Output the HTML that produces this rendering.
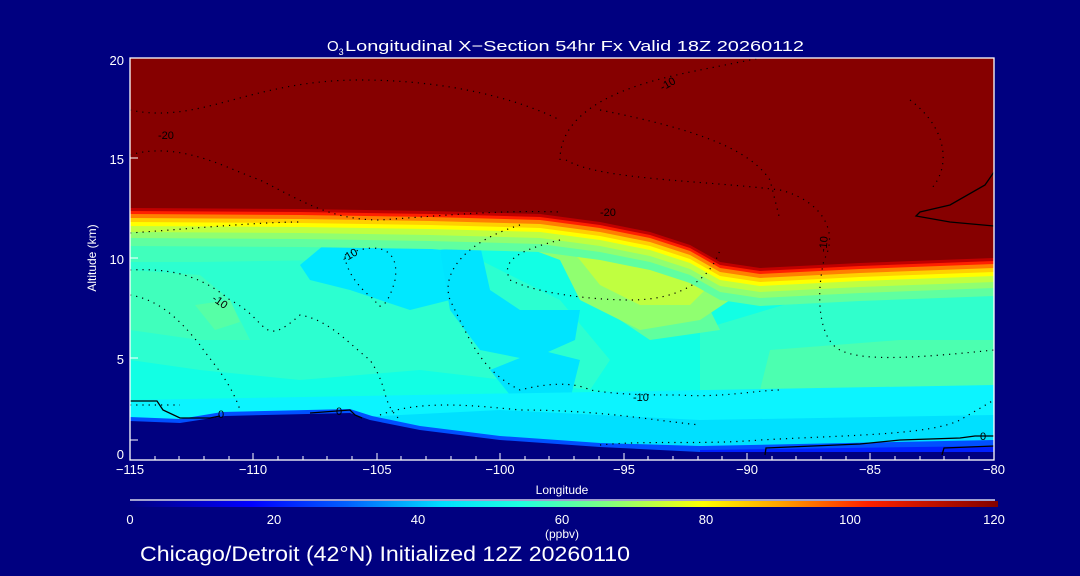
<!DOCTYPE html>
<html><head><meta charset="utf-8"><style>
html,body{margin:0;padding:0;background:#000080;}
svg{display:block;}
text{font-family:"Liberation Sans",sans-serif;fill:#fff;}
</style></head><body>
<svg width="1080" height="576" viewBox="0 0 1080 576" xmlns="http://www.w3.org/2000/svg">
<defs>
<linearGradient id="cb" x1="0" x2="1" y1="0" y2="0">
<stop offset="0" stop-color="#000080"/>
<stop offset="0.14" stop-color="#0000ff"/>
<stop offset="0.25" stop-color="#0060ff"/>
<stop offset="0.36" stop-color="#00e0ff"/>
<stop offset="0.45" stop-color="#20ffe0"/>
<stop offset="0.55" stop-color="#80ff80"/>
<stop offset="0.66" stop-color="#ffff00"/>
<stop offset="0.75" stop-color="#ffa000"/>
<stop offset="0.85" stop-color="#ff2000"/>
<stop offset="1" stop-color="#800000"/>
</linearGradient>
<clipPath id="pc"><rect x="130" y="58" width="864" height="402"/></clipPath>
</defs>
<rect width="1080" height="576" fill="#000080"/>
<g clip-path="url(#pc)">
<rect x="130" y="58" width="864" height="402" fill="#12ffe4"/>
<polygon points="130,230 300,230 460,250 560,300 610,360 590,390 420,370 300,380 200,370 130,360" fill="#2cffd0"/>
<polygon points="130,240 300,240 420,245 330,260 200,262 130,262" fill="#40ffbc"/>
<polygon points="130,270 200,275 230,300 250,340 200,340 130,330" fill="#40ffbc"/>
<polygon points="195,305 230,300 240,322 215,330" fill="#56ffa6"/>
<polygon points="700,330 800,300 994,290 994,350 900,360 830,370 760,390 700,390" fill="#30ffcc"/>
<polygon points="770,350 900,340 994,340 994,400 900,395 820,395 760,390" fill="#4cffb0"/>
<polygon points="590,300 700,290 720,330 650,340" fill="#60ff9e"/>
<polygon points="130,400 160,400 190,415 130,420" fill="#30ffd0"/>
<polygon points="300,265 330,240 400,245 440,250 450,300 410,310 350,290 310,280" fill="#00e8ff"/>
<polygon points="440,250 480,245 490,290 520,310 580,310 575,340 530,360 480,350 450,310" fill="#00e4ff"/>
<polygon points="490,370 540,350 580,360 570,400 510,395" fill="#00e4ff"/>
<polygon points="130,400 994,385 994,460 130,460" fill="#0cf4ff"/>
<polygon points="300,420 500,410 700,420 994,415 994,460 300,460" fill="#00e0ff"/>
<polygon points="540,225 600,240 650,265 700,285 730,300 700,320 640,330 580,300 560,260 520,245" fill="#90ff70"/>
<polygon points="550,228 610,245 660,270 705,290 690,305 640,305 600,285 580,260" fill="#c0ff40"/>
<polygon points="130,246 300,247 430,249 540,252 600,260 650,270 690,283 720,300 760,306 860,301 994,296 994,58 130,58" fill="#60ffa0"/>
<polygon points="130,238 300,239 430,241 540,244 600,252 650,262 690,275 720,292 760,298 860,293 994,288 994,58 130,58" fill="#90ff70"/>
<polygon points="130,232 300,233 430,235 540,238 600,246 650,256 690,269 720,286 760,292 860,287 994,282 994,58 130,58" fill="#c0ff40"/>
<polygon points="130,226 300,227 430,229 540,232 600,240 650,250 690,263 720,280 760,286 860,281 994,276 994,58 130,58" fill="#ffff00"/>
<polygon points="130,222 300,223 430,225 540,228 600,236 650,246 690,259 720,276 760,282 860,277 994,272 994,58 130,58" fill="#ffd000"/>
<polygon points="130,218 300,219 430,221 540,224 600,232 650,242 690,255 720,272 760,278 860,273 994,268 994,58 130,58" fill="#ff8000"/>
<polygon points="130,214 300,215 430,217 540,220 600,228 650,238 690,251 720,268 760,274 860,269 994,264 994,58 130,58" fill="#ff2000"/>
<polygon points="130,211 300,212 430,214 540,217 600,225 650,235 690,248 720,265 760,271 860,266 994,261 994,58 130,58" fill="#c00000"/>
<polygon points="130,208 300,209 430,211 540,214 600,222 650,232 690,245 720,262 760,268 860,263 994,258 994,58 130,58" fill="#860000"/>
<polygon points="130,417 180,419 222,412 350,409 372,416 420,426 500,436 600,443 700,446 994,440 994,460 130,460" fill="#0050ff"/>
<polygon points="700,450 994,446 994,460 700,460" fill="#0020ff"/>
<polygon points="130,421 180,423 225,416 350,413 370,420 420,430 500,440 600,447 700,452 994,452 994,460 130,460" fill="#000080"/>
<g fill="none" stroke="#000" stroke-width="1.2" stroke-dasharray="1.2,5">
<path d="M130,110 C200,125 250,80 360,80 C450,80 520,100 560,120"/>
<path d="M560,160 C560,100 650,80 700,70 L760,58"/>
<path d="M566,160 C600,180 700,180 780,190 C820,200 840,230 824,260 C815,300 820,340 840,350 C860,360 900,360 994,350"/>
<path d="M600,110 C700,130 750,150 770,180 L780,220"/>
<path d="M130,155 C180,140 230,170 260,180 C300,200 330,220 380,220 C450,215 500,210 560,212"/>
<path d="M130,233 C200,228 260,222 300,222"/>
<path d="M130,270 C170,268 200,275 230,300 C270,320 260,350 300,315 C330,320 350,345 370,360 C390,390 380,400 400,420"/>
<path d="M130,295 C160,300 180,320 200,345 C210,360 230,380 240,410"/>
<path d="M345,255 C380,240 400,250 395,280 C390,300 380,315 375,300 C360,290 345,270 345,255"/>
<path d="M520,225 C470,240 440,270 450,300 C470,340 480,370 520,390 C560,380 580,385 590,390 C620,395 650,395 680,395 C720,398 760,390 780,390"/>
<path d="M560,240 C520,250 500,260 510,280 C540,295 600,300 630,300 C680,300 710,280 720,250"/>
<path d="M130,405 L180,405 M380,415 C420,400 470,405 520,410 C600,410 650,420 700,425"/>
<path d="M600,445 C650,440 700,445 760,440 C850,435 930,435 960,420 L994,400"/>
<path d="M910,100 C950,130 950,170 930,190"/>
</g>
<g fill="none" stroke="#000" stroke-width="1.3">
<path d="M130,401 L157,401 L163,410 L180,418 L210,418 L220,416 M310,413 L350,410 L355,415 L362,418"/>
<path d="M994,172 L985,185 L950,205 L920,212 L916,216 L950,222 L994,226"/>
<path d="M765,455 L766,448 L860,444 L900,440 L960,438 L975,436 L994,436"/>
<path d="M942,455 L944,448 L994,446"/>
</g>
<g font-size="11">
<text x="158" y="139" style="fill:#000">-20</text>
<text x="343" y="260" style="fill:#000" transform="rotate(-30 348 258)">-10</text>
<text x="213" y="305" style="fill:#000" transform="rotate(35 220 300)">-10</text>
<text x="600" y="216" style="fill:#000">-20</text>
<text x="815" y="250" style="fill:#000" transform="rotate(-85 822 245)">-10</text>
<text x="633" y="401" style="fill:#000">-10</text>
<text x="660" y="89" style="fill:#000" transform="rotate(-30 665 85)">-10</text>
<text x="218" y="418" style="fill:#000">0</text>
<text x="336" y="415" style="fill:#000">0</text>
<text x="980" y="440" style="fill:#000">0</text>
</g>
</g>
<rect x="130" y="58" width="864" height="402" fill="none" stroke="#fff" stroke-width="1.3"/>
<g stroke="#fff" stroke-width="1">
<path d="M130,460 v-7 M253,460 v-7 M377,460 v-7 M500,460 v-7 M624,460 v-7 M747,460 v-7 M870,460 v-7"/>
<path d="M155,460 v-4 M179,460 v-4 M204,460 v-4 M229,460 v-4 M278,460 v-4 M303,460 v-4 M327,460 v-4 M352,460 v-4 M401,460 v-4 M426,460 v-4 M451,460 v-4 M476,460 v-4 M525,460 v-4 M549,460 v-4 M574,460 v-4 M599,460 v-4 M648,460 v-4 M673,460 v-4 M698,460 v-4 M722,460 v-4 M772,460 v-4 M796,460 v-4 M821,460 v-4 M846,460 v-4 M895,460 v-4 M920,460 v-4 M944,460 v-4 M969,460 v-4"/>
<path d="M130,440 h8 M130,358 h8 M130,258 h8 M130,158 h8"/>
</g>
<g font-size="13">
<text x="130" y="474" text-anchor="middle">−115</text>
<text x="253" y="474" text-anchor="middle">−110</text>
<text x="377" y="474" text-anchor="middle">−105</text>
<text x="500" y="474" text-anchor="middle">−100</text>
<text x="624" y="474" text-anchor="middle">−95</text>
<text x="747" y="474" text-anchor="middle">−90</text>
<text x="870" y="474" text-anchor="middle">−85</text>
<text x="994" y="474" text-anchor="middle">−80</text>
<text x="124" y="459" text-anchor="end">0</text>
<text x="124" y="364" text-anchor="end">5</text>
<text x="124" y="264" text-anchor="end">10</text>
<text x="124" y="164" text-anchor="end">15</text>
<text x="124" y="65" text-anchor="end">20</text>
<text x="562" y="494" text-anchor="middle" font-size="12">Longitude</text>
<text x="0" y="0" font-size="12" text-anchor="middle" transform="translate(96,258) rotate(-90)">Altitude (km)</text>
</g>
<text x="327" y="51" font-size="15">O<tspan font-size="9" dy="4">3</tspan></text>
<text x="345" y="51" font-size="15" textLength="459" lengthAdjust="spacingAndGlyphs">Longitudinal X−Section 54hr  Fx Valid 18Z 20260112</text>
<line x1="130" y1="500" x2="995" y2="500" stroke="#fff" stroke-width="1.3"/>
<rect x="130" y="501" width="868" height="6" fill="url(#cb)"/>
<g font-size="13">
<text x="130" y="524" text-anchor="middle">0</text>
<text x="274" y="524" text-anchor="middle">20</text>
<text x="418" y="524" text-anchor="middle">40</text>
<text x="562" y="524" text-anchor="middle">60</text>
<text x="706" y="524" text-anchor="middle">80</text>
<text x="850" y="524" text-anchor="middle">100</text>
<text x="994" y="524" text-anchor="middle">120</text>
<text x="562" y="538" text-anchor="middle" font-size="12">(ppbv)</text>
</g>
<text x="140" y="561" font-size="21" textLength="490" lengthAdjust="spacingAndGlyphs">Chicago/Detroit (42°N) Initialized 12Z 20260110</text>
</svg>
</body></html>
